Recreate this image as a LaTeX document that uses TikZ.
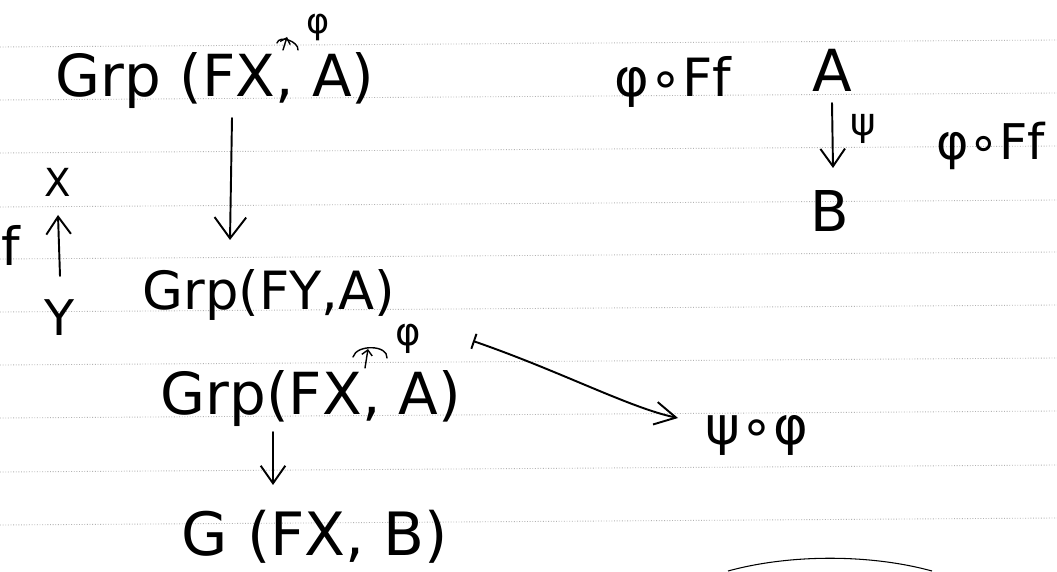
\documentclass[tikz,border=0pt]{standalone}
\usepackage{fontspec}
\setmainfont{DejaVu Sans}
\usetikzlibrary{arrows.meta,positioning,calc}

\begin{document}
\begin{tikzpicture}[
    x=0.02cm, y=0.02cm,
    hand/.style={inner sep=0pt, anchor=base, font=\fontsize{#1}{#1}\selectfont},
    hand/.default=30,
    rule/.style={gray!60, densely dotted, line width=0.5pt},
    arrow/.style={-{Straight Barb[length=10pt,width=14pt]}, line width=1.1pt, line cap=round},
    bigarrow/.style={arrow, -{Straight Barb[length=12pt,width=18pt]}},
    mapsto/.style={{Bar[width=9pt]}-{Straight Barb[length=12pt,width=13pt]}, line width=1.1pt},
    annot/.style={line width=0.8pt, line cap=round}
  ]
    \useasboundingbox[fill=white] (0,0) rectangle (1057,571);

    % ruled paper
    \foreach \ry in {524,471,418,364,312,259,206,153,99,46}
      \draw[rule] (0,\ry) -- (1057,\ry+7);

    % left column
    \node[hand=33] (grpFXA)  at (215,474) {Grp (FX, A)};
    \node[hand=30] (grpFYA)  at (269,261) {Grp(FY,A)};
    \node[hand=33] (grpFXAb) at (311,156) {Grp(FX, A)};
    \node[hand=34] (gFXB)    at (315,16)  {G (FX, B)};
    \node[hand=22] (objX)    at (58,374)  {X};
    \node[hand=28] (objY)    at (60,235)  {Y};

    % right column
    \node[hand=30] (phiFf)   at (673,474) {φ∘Ff};
    \node[hand=33] (objA)    at (832,479) {A};
    \node[hand=32] (objB)    at (830,339) {B};
    \node[hand=28, anchor=base west] (phiFfb) at (936,411) {φ∘Ff};
    \node[hand=30] (psiphi)  at (757,126) {ψ∘φ};

    % little phi marks
    \node[hand=20, anchor=center] (phiTop) at (318,544) {φ};
    \node[hand=22, anchor=center] (phiBot) at (408,232) {φ};
    \draw[annot] ($(grpFXA.base)+(62,54)$) to[out=75,in=85] ($(grpFXA.base)+(83,47)$);
    \draw[annot, -{Straight Barb[length=3pt,width=6pt]}] ($(grpFXA.base)+(68,47)$) -- ($(grpFXA.base)+(72,60)$);
    \draw[annot] ($(grpFXAb.base)+(42,58)$) to[out=75,in=85] ($(grpFXAb.base)+(76,57)$);
    \draw[annot, -{Straight Barb[length=3pt,width=6pt]}] ($(grpFXAb.base)+(54,47)$) -- ($(grpFXAb.base)+(57,66)$);

    % maps
    \draw[bigarrow] ($(grpFXA.base)+(17,-21)$) -- ($(grpFYA.base)+(-39,70)$);
    \draw[arrow] ($(objY.base)+(0,60)$) -- node[hand=30, left=0.75cm] {f} ($(objX.base)+(0,-18)$);
    \draw[arrow] ($(objA.base)+(0,-11)$) -- node[pos=0.4, hand=22, right=0.35cm] {ψ} ($(objB.base)+(3,64)$);
    \draw[arrow] ($(grpFXAb.base)+(-38,-17)$) -- ($(gFXB.base)+(-42,70)$);
    \draw[mapsto] ($(grpFXAb.base)+(162,74)$) .. controls (560,200) and (630,163) .. ($(psiphi.base)+(-79,27)$);

    % edge of a bubble at the bottom
    \draw[line width=0.6pt] (728,0) .. controls (790,17) and (870,17) .. (932,0);
  \end{tikzpicture}
\end{document}
